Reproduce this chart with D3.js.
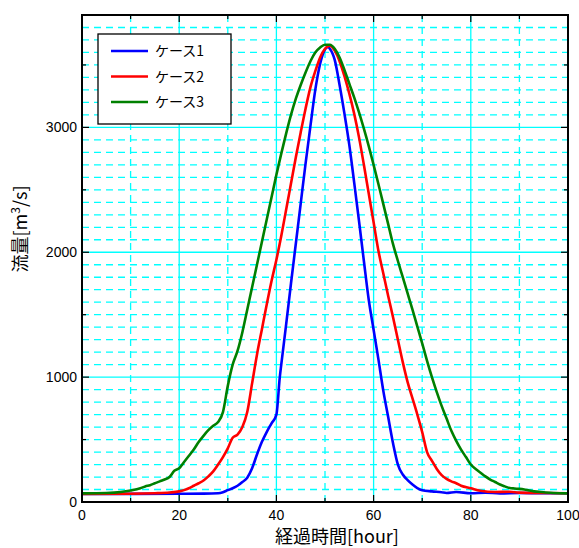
<!DOCTYPE html>
<html><head><meta charset="utf-8">
<script src="https://cdn.jsdelivr.net/npm/d3@7"></script>
<style>body{margin:0;background:#fff}svg{display:block}</style>
</head><body>
<svg id="c" width="579" height="548"></svg>
<script>
const seriesNames = ["ケース1", "ケース2", "ケース3"];
const seriesColors = ["#0000ff", "#ff0000", "#008000"];
const xTicks = [0, 20, 40, 60, 80, 100];
const yTicks = [0, 1000, 2000, 3000];
const xLabel = "経過時間[hour]";

const case1T = [0,10,20,25,28,29,30,31,32,33,34,35,36,37,38,39,40,40.7,41,42,43,44,45,46,47,48,49,50,50.6,51,52,53,54,55,56,57,58,59,60,61,62,63,64,65,66,67,68,69,70,72,74,75,77,80,83,86,90,95,100];
const case1Q = [65,65,66,67,70,78,95,110,130,160,195,270,380,480,560,630,700,1000,1100,1420,1750,2070,2390,2710,3010,3300,3510,3625,3645,3630,3540,3340,3110,2860,2560,2250,1930,1620,1380,1140,890,680,470,300,220,175,140,112,95,85,78,72,80,70,75,68,72,70,70];

const case2T = [0,10,15,18,20,21,22,23,24,25,26,27,28,29,30,31,32,33,34,35,36,37,38,39,40,41,42,43,44,45,46,47,48,49,50,51,52,53,54,55,56,57,58,59,60,61,62,63,64,65,66,67,68,69,70,71,72,73,74,75,76,77,78,80,82,85,88,90,95,100];
const case2Q = [65,66,70,76,85,95,110,130,150,172,205,245,300,360,430,515,540,600,720,950,1180,1380,1580,1770,1940,2130,2340,2550,2760,2960,3150,3320,3450,3560,3630,3655,3615,3530,3410,3270,3110,2920,2700,2470,2240,2010,1830,1650,1480,1300,1120,960,830,700,560,400,330,265,215,185,165,150,130,110,90,80,82,75,72,70];

const case3T = [0,5,8,10,12,13,14,15,16,17,18,19,20,21,22,23,24,25,26,27,28,29,30,31,32,33,34,35,36,37,38,39,40,41,42,43,44,45,46,47,48,49,50,51,52,53,54,55,56,57,58,59,60,61,62,63,64,65,66,67,68,69,70,71,72,73,74,75,76,77,78,79,80,81,82,83,84,85,86,87,88,89,90,91,92,93,95,97,100];
const case3Q = [69,72,80,92,110,125,135,150,165,180,200,250,270,320,370,420,480,530,575,610,640,720,930,1100,1210,1360,1540,1720,1900,2080,2260,2440,2620,2790,2950,3100,3230,3340,3440,3530,3600,3640,3662,3662,3630,3560,3460,3350,3240,3120,2990,2850,2700,2545,2385,2225,2065,1930,1800,1670,1540,1405,1270,1130,1000,880,770,670,570,490,420,360,300,265,235,205,180,160,140,125,112,108,105,100,92,85,78,72,69];

const seriesT = [case1T, case2T, case3T];
const seriesQ = [case1Q, case2Q, case3Q];

const L = 82, R = 568, T = 15, B = 502;
const svg = d3.select("#c");
const x = d3.scaleLinear().domain([0, 100]).range([L, R]);
const y = d3.scaleLinear().domain([0, 3900]).range([B, T]);
const font = "'Liberation Sans', Arial, 'Noto Sans CJK JP', sans-serif";
const cjk = "'Noto Sans CJK JP', sans-serif";

// grid
const g = svg.append("g");
for (let v = 100; v < 3900; v += 100) {
  const major = v % 1000 === 0;
  g.append("line").attr("x1", L).attr("x2", R).attr("y1", y(v)).attr("y2", y(v))
    .attr("stroke", "#00ffff").attr("stroke-width", 1.3)
    .attr("stroke-dasharray", major ? null : "7,5");
}
for (let v = 10; v < 100; v += 10) {
  const major = v % 20 === 0;
  g.append("line").attr("y1", T).attr("y2", B).attr("x1", x(v)).attr("x2", x(v))
    .attr("stroke", "#00ffff").attr("stroke-width", 1.3)
    .attr("stroke-dasharray", major ? null : "7,5");
}

// lines
const line = d3.line().x(d => x(d[0])).y(d => y(d[1])).curve(d3.curveMonotoneX);
seriesT.forEach((ts, i) => {
  const pts = ts.map((t, k) => [t, seriesQ[i][k]]);
  svg.append("path").datum(pts).attr("d", line).attr("fill", "none")
    .attr("stroke", seriesColors[i]).attr("stroke-width", 2.6)
    .attr("stroke-linejoin", "round");
});

// axes (box with inward ticks)
const xMinor = [10, 30, 50, 70, 90];
const yMinor = [500, 1500, 2500, 3500];
const ax = svg.append("g").attr("stroke", "#000");
function tick(x1, y1, x2, y2) { ax.append("line").attr("x1", x1).attr("y1", y1).attr("x2", x2).attr("y2", y2).attr("stroke-width", 1.2); }
xTicks.forEach(v => { tick(x(v), B, x(v), B - 7); tick(x(v), T, x(v), T + 7); });
xMinor.forEach(v => { tick(x(v), B, x(v), B - 4); tick(x(v), T, x(v), T + 4); });
yTicks.forEach(v => { tick(L, y(v), L + 7, y(v)); tick(R, y(v), R - 7, y(v)); });
yMinor.forEach(v => { tick(L, y(v), L + 4, y(v)); tick(R, y(v), R - 4, y(v)); });
svg.append("rect").attr("x", L).attr("y", T).attr("width", R - L).attr("height", B - T)
  .attr("fill", "none").attr("stroke", "#000").attr("stroke-width", 2);

// tick labels
svg.append("g").selectAll("text").data(xTicks).join("text")
  .attr("x", d => x(d)).attr("y", 520).attr("text-anchor", "middle")
  .attr("font-family", font).attr("font-size", 14).text(d => d);
svg.append("g").selectAll("text").data(yTicks).join("text")
  .attr("x", 77).attr("y", d => y(d) + 5).attr("text-anchor", "end")
  .attr("font-family", font).attr("font-size", 14).text(d => d);

// axis titles
svg.append("text").attr("x", 337).attr("y", 543).attr("text-anchor", "middle")
  .attr("font-family", cjk).attr("font-size", 18).text(xLabel);
const yl = svg.append("text").attr("transform", "translate(27,229) rotate(-90)")
  .attr("text-anchor", "middle").attr("font-family", cjk).attr("font-size", 18);
yl.append("tspan").text("流量[m");
yl.append("tspan").attr("dy", -7).attr("font-size", 12).text("3");
yl.append("tspan").attr("dy", 7).text("/s]");

// legend
const lg = svg.append("g");
lg.append("rect").attr("x", 98).attr("y", 34).attr("width", 133).attr("height", 90)
  .attr("fill", "#fff").attr("stroke", "#000").attr("stroke-width", 1.3);
seriesNames.forEach((n, i) => {
  const yy = 51 + i * 25.5;
  lg.append("line").attr("x1", 111).attr("x2", 148).attr("y1", yy).attr("y2", yy)
    .attr("stroke", seriesColors[i]).attr("stroke-width", 2.6);
  lg.append("text").attr("x", 155).attr("y", yy + 5).attr("font-family", cjk)
    .attr("font-size", 14).text(n);
});
</script>
</body></html>
